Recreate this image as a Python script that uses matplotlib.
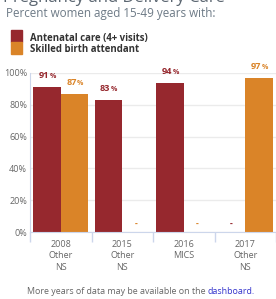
import matplotlib
matplotlib.use("Agg")
import matplotlib.pyplot as plt
from matplotlib.patches import Rectangle
import numpy as np

categories = ["2008\nOther\nNS", "2015\nOther\nNS", "2016\nMICS", "2017\nOther\nNS"]
antenatal = [91, 83, 94, None]
skilled = [87, None, None, 97]
series_names = ["Antenatal care (4+ visits)", "Skilled birth attendant"]
yticks = [0, 20, 40, 60, 80, 100]

RED = "#96282E"
ORANGE = "#DA8428"
GRAY = "#666666"
FONT = "Open Sans"

plt.rcParams["font.family"] = [FONT, "DejaVu Sans"]

W, H = 276, 299
fig = plt.figure(figsize=(W / 100, H / 100), dpi=100)

def fx(px):
    return px / W

def fy(py):
    return 1 - py / H

# Title (cut off at top) and subtitle
fig.text(fx(3), fy(2.0), "Pregnancy and Delivery Care", fontsize=12, color="#5a6570",
         va="baseline", ha="left")
fig.text(fx(6), fy(16.5), "Percent women aged 15-49 years with:", fontsize=8.4,
         color="#6d7a86", va="baseline", ha="left")

# Legend
for i, (name, col) in enumerate(zip(series_names, [RED, ORANGE])):
    fig.patches.append(Rectangle((fx(11), fy(42 + 12 * i)), fx(11), 12 / H,
                                 transform=fig.transFigure, color=col, figure=fig))
    fig.text(fx(30), fy(38 + 12 * i), name, fontsize=6.9, fontweight="bold",
             color="#333333", va="center", ha="left")

ax = fig.add_axes([fx(30), fy(232), fx(246), (232 - 73) / H])
x = np.arange(len(categories))
bw = 0.45
ax.set_xlim(-0.5, len(categories) - 0.5)
ax.set_ylim(0, 100)

def draw(vals, offset, col):
    for xi, v in zip(x, vals):
        if v is None:
            ax.text(xi + offset, 5, "-", color=col, fontsize=6, fontweight="bold",
                    ha="center", va="center")
            continue
        ax.bar(xi + offset, v, width=bw, color=col, zorder=2)
        ax.annotate(f"{v}", (xi + offset, v), xytext=(1.5, 5), textcoords="offset points",
                    ha="right", va="bottom", fontsize=6.6, fontweight="bold", color=col,
                    annotation_clip=False)
        ax.annotate("%", (xi + offset, v), xytext=(1.8, 5), textcoords="offset points",
                    ha="left", va="bottom", fontsize=5.0, fontweight="bold", color=col,
                    annotation_clip=False)

draw(antenatal, -bw / 2, RED)
draw(skilled, bw / 2, ORANGE)

ax.set_yticks(yticks)
ax.set_yticklabels([f"{t}%" for t in yticks], fontsize=6.5, color=GRAY)
ax.grid(axis="y", color="#ebebeb", linewidth=1.0, zorder=0)
ax.set_axisbelow(True)

ax.set_xticks(x)
ax.set_xticklabels(categories, fontsize=6.5, color=GRAY, linespacing=1.3)
ax.tick_params(axis="x", length=0, pad=6)
ax.tick_params(axis="y", length=0, pad=2)
# category boundary ticks
ax.set_xticks(np.arange(-0.5, len(categories), 1.0), minor=True)
ax.tick_params(axis="x", which="minor", length=7, color="#ccd6eb", width=1)

for s in ["top", "right"]:
    ax.spines[s].set_visible(False)
ax.spines["left"].set_color("#ccd6eb")
ax.spines["bottom"].set_color("#ccd6eb")

# Footer
t1 = fig.text(fx(27), fy(294), "More years of data may be available on the ", fontsize=6.4,
              color="#666666", va="baseline", ha="left")
fig.canvas.draw()
bb = t1.get_window_extent()
fig.text(bb.x1 / W, fy(294), "dashboard.", fontsize=6.4, color="#3333cc",
         va="baseline", ha="left")

fig.savefig("out.png", dpi=100)
